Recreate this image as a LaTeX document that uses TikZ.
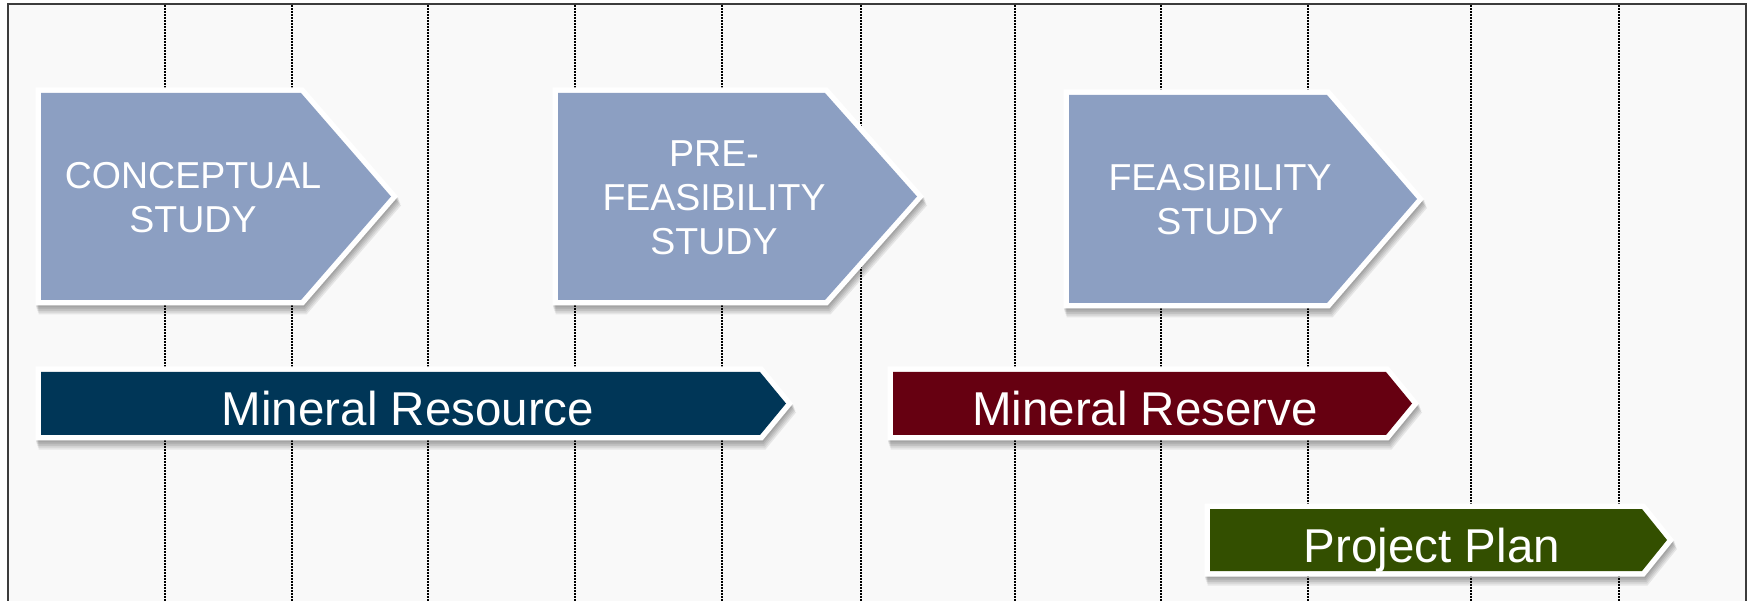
\documentclass[tikz,border=0pt]{standalone}
\usepackage{fontspec}
\setmainfont{Liberation Sans}
\definecolor{chevblue}{RGB}{140,159,194}
\definecolor{resnavy}{RGB}{0,54,87}
\definecolor{resmaroon}{RGB}{102,0,17}
\definecolor{plangreen}{RGB}{51,79,0}
\definecolor{bgfill}{RGB}{249,249,249}
\definecolor{framegray}{RGB}{60,60,60}
\tikzset{
  gridline/.style={black, line width=2pt, dash pattern=on 1.8pt off 1.2pt},
  framelin/.style={framegray, line width=1.8pt},
  bigtxt/.style={text=white, align=center, inner sep=0pt, font=\fontsize{37.5}{44}\selectfont},
  bantxt/.style={text=white, inner sep=0pt, anchor=base, font=\fontsize{47.5}{56}\selectfont},
}
% #1 colour, #2 left x, #3 flat end x, #4 tip x, #5 top y, #6 bottom y
\newcommand\chevshape[6]{%
  \foreach \s in {1,2,3,4,5}{%
    \fill[black, opacity=0.08, shift={(0.6*\s,1.8*\s)}]
      (#2-5.5,#5-5.5) -- (#3+2.5,#5-5.5) -- (#4+7,{(#5+#6)/2}) -- (#3+2.5,#6+5.5) -- (#2-5.5,#6+5.5) -- cycle;}
  \fill[white] (#2-5.5,#5-5.5) -- (#3+2.5,#5-5.5) -- (#4+7,{(#5+#6)/2}) -- (#3+2.5,#6+5.5) -- (#2-5.5,#6+5.5) -- cycle;
  \fill[#1] (#2,#5) -- (#3,#5) -- (#4,{(#5+#6)/2}) -- (#3,#6) -- (#2,#6) -- cycle;
}
\begin{document}
\begin{tikzpicture}[x=1pt,y=-1pt]
\useasboundingbox (0,0) rectangle (1754,601);
\clip (0,0) rectangle (1754,601);
\fill[white] (0,0) rectangle (1754,601);
\fill[bgfill] (8,4) rectangle (1746,610);
\foreach \x in {165,292,428,575,722,861,1015,1161,1308,1471,1619}
  \draw[gridline] (\x,5) -- (\x,610);
\draw[framelin] (8,610) -- (8,4) -- (1746,4) -- (1746,610);

\chevshape{chevblue}{41}{301}{391}{93}{300}
\chevshape{chevblue}{558}{825}{917}{93}{300}
\chevshape{chevblue}{1069}{1327}{1417}{95}{303}
\chevshape{resnavy}{41}{760}{786}{372}{435}
\chevshape{resmaroon}{893}{1386}{1412}{372}{435}
\chevshape{plangreen}{1210}{1642}{1667}{509}{571}

\node[bigtxt] (concept) at (193,197.5) {CONCEPTUAL\\STUDY};
\node[bigtxt] (prefeas) at (714,197.5) {PRE-\\FEASIBILITY\\STUDY};
\node[bigtxt] (feas) at (1220,199.5) {FEASIBILITY\\STUDY};
\node[bantxt] (resource) at (408,426) {Mineral Resource};
\node[bantxt] (reserve) at (1145,426) {Mineral Reserve};
\node[bantxt] (plan) at (1432,562) {Project Plan};
\end{tikzpicture}
\end{document}
